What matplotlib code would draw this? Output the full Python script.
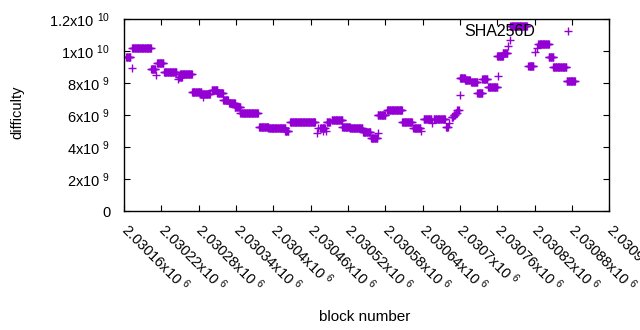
import numpy as np
import matplotlib
matplotlib.use("Agg")
import matplotlib.pyplot as plt

plt.rcParams['font.family'] = ['Liberation Sans', 'DejaVu Sans']
plt.rcParams['mathtext.default'] = 'regular'

# block runs: first block, last block, difficulty
# (block offsets relative to 2030160)
run_start = [3, 12, 13, 43, 51, 53, 64, 87, 88, 90, 109, 122, 127, 141, 150,
             159, 169, 178, 187, 217, 232, 259, 267, 310, 312, 315, 320, 325,
             326, 334, 351, 363, 384, 397, 408, 408, 423, 447, 465, 478, 482,
             495, 498, 518, 523, 527, 530, 533, 536, 540, 540, 548, 558, 568,
             576, 585, 601, 600, 609, 617, 621, 621, 650, 661, 664, 666, 683,
             690, 712]
run_end = [10, 12, 43, 50, 51, 63, 84, 87, 93, 109, 124, 138, 127, 150, 159,
           167, 178, 187, 215, 232, 259, 264, 307, 310, 312, 323, 320, 325,
           331, 351, 363, 383, 396, 407, 408, 420, 447, 463, 476, 478, 494,
           495, 516, 521, 523, 529, 532, 535, 538, 540, 548, 556, 568, 576,
           584, 600, 601, 609, 616, 617, 621, 648, 658, 661, 664, 683, 690,
           711, 725]
run_diff = [9.6e9, 8.96e9, 1.017e10, 8.85e9, 8.48e9, 9.25e9, 8.7e9, 8.25e9,
            8.4e9, 8.56e9, 7.46e9, 7.31e9, 7.15e9, 7.56e9, 7.35e9, 6.94e9,
            6.73e9, 6.52e9, 6.15e9, 5.27e9, 5.17e9, 5.02e9, 5.58e9, 4.9e9,
            5.2e9, 5.2e9, 5.0e9, 4.98e9, 5.58e9, 5.69e9, 5.23e9, 5.17e9,
            4.96e9, 4.54e9, 4.87e9, 6.0e9, 6.31e9, 5.54e9, 5.21e9, 5.02e9,
            5.73e9, 5.48e9, 5.73e9, 5.27e9, 5.48e9, 5.85e9, 6.0e9, 6.15e9,
            6.3e9, 7.23e9, 8.29e9, 8.19e9, 8.04e9, 7.4e9, 8.23e9, 7.73e9,
            8.44e9, 9.69e9, 9.9e9, 1.03e10, 1.07e10, 1.158e10, 9.08e9, 9.92e9,
            1.017e10, 1.042e10, 9.65e9, 9.02e9, 8.1e9]
block_base = 2030160

xticks = np.arange(2030160, 2030941, 60)
yticks = [0, 2e9, 4e9, 6e9, 8e9, 1e10, 1.2e10]
ytick_labels = ['0', '2x10 $^{9}$', '4x10 $^{9}$', '6x10 $^{9}$', '8x10 $^{9}$',
                '1x10 $^{10}$', '1.2x10 $^{10}$']

blocks = []
diffs = []
for s, e, d in zip(run_start, run_end, run_diff):
    for b in range(s, e + 1):
        blocks.append(block_base + b)
        diffs.append(d)

fig = plt.figure(figsize=(6.4, 3.3), dpi=100)
ax = fig.add_axes([0.194, 0.3606, 0.7578, 0.5818])
ax.plot(blocks, diffs, '+', color='#9400d3', ms=5.3, mew=1.0, label='SHA256D')

ax.set_xlim(2030160, 2030940)
ax.set_ylim(0, 1.2e10)
ax.set_xticks(xticks)
ax.set_xticklabels([f'{v / 1e6:g}x10 $^{{6}}$' for v in xticks],
                   rotation=-45, ha='left', va='center', rotation_mode='anchor')
ax.set_yticks(yticks)
ax.set_yticklabels(ytick_labels)
ax.tick_params(direction='in', length=4, top=True, right=True, labelsize=10.5,
               colors='black')
ax.tick_params(axis='y', pad=10)
ax.tick_params(axis='x', pad=11)
for sp in ax.spines.values():
    sp.set_linewidth(1.0)

ax.set_xlabel('block number', fontsize=11)
ax.set_ylabel('difficulty', fontsize=10.5)
ax.xaxis.set_label_coords(0.495, -0.515)
ax.yaxis.set_label_coords(-0.206, 0.516)

ax.legend(loc='center right', frameon=False, markerfirst=False, fontsize=11.5,
          bbox_to_anchor=(0.939, 0.934), borderpad=0, borderaxespad=0,
          handlelength=1.5, handletextpad=1.3)

fig.savefig('out.png', dpi=100)
